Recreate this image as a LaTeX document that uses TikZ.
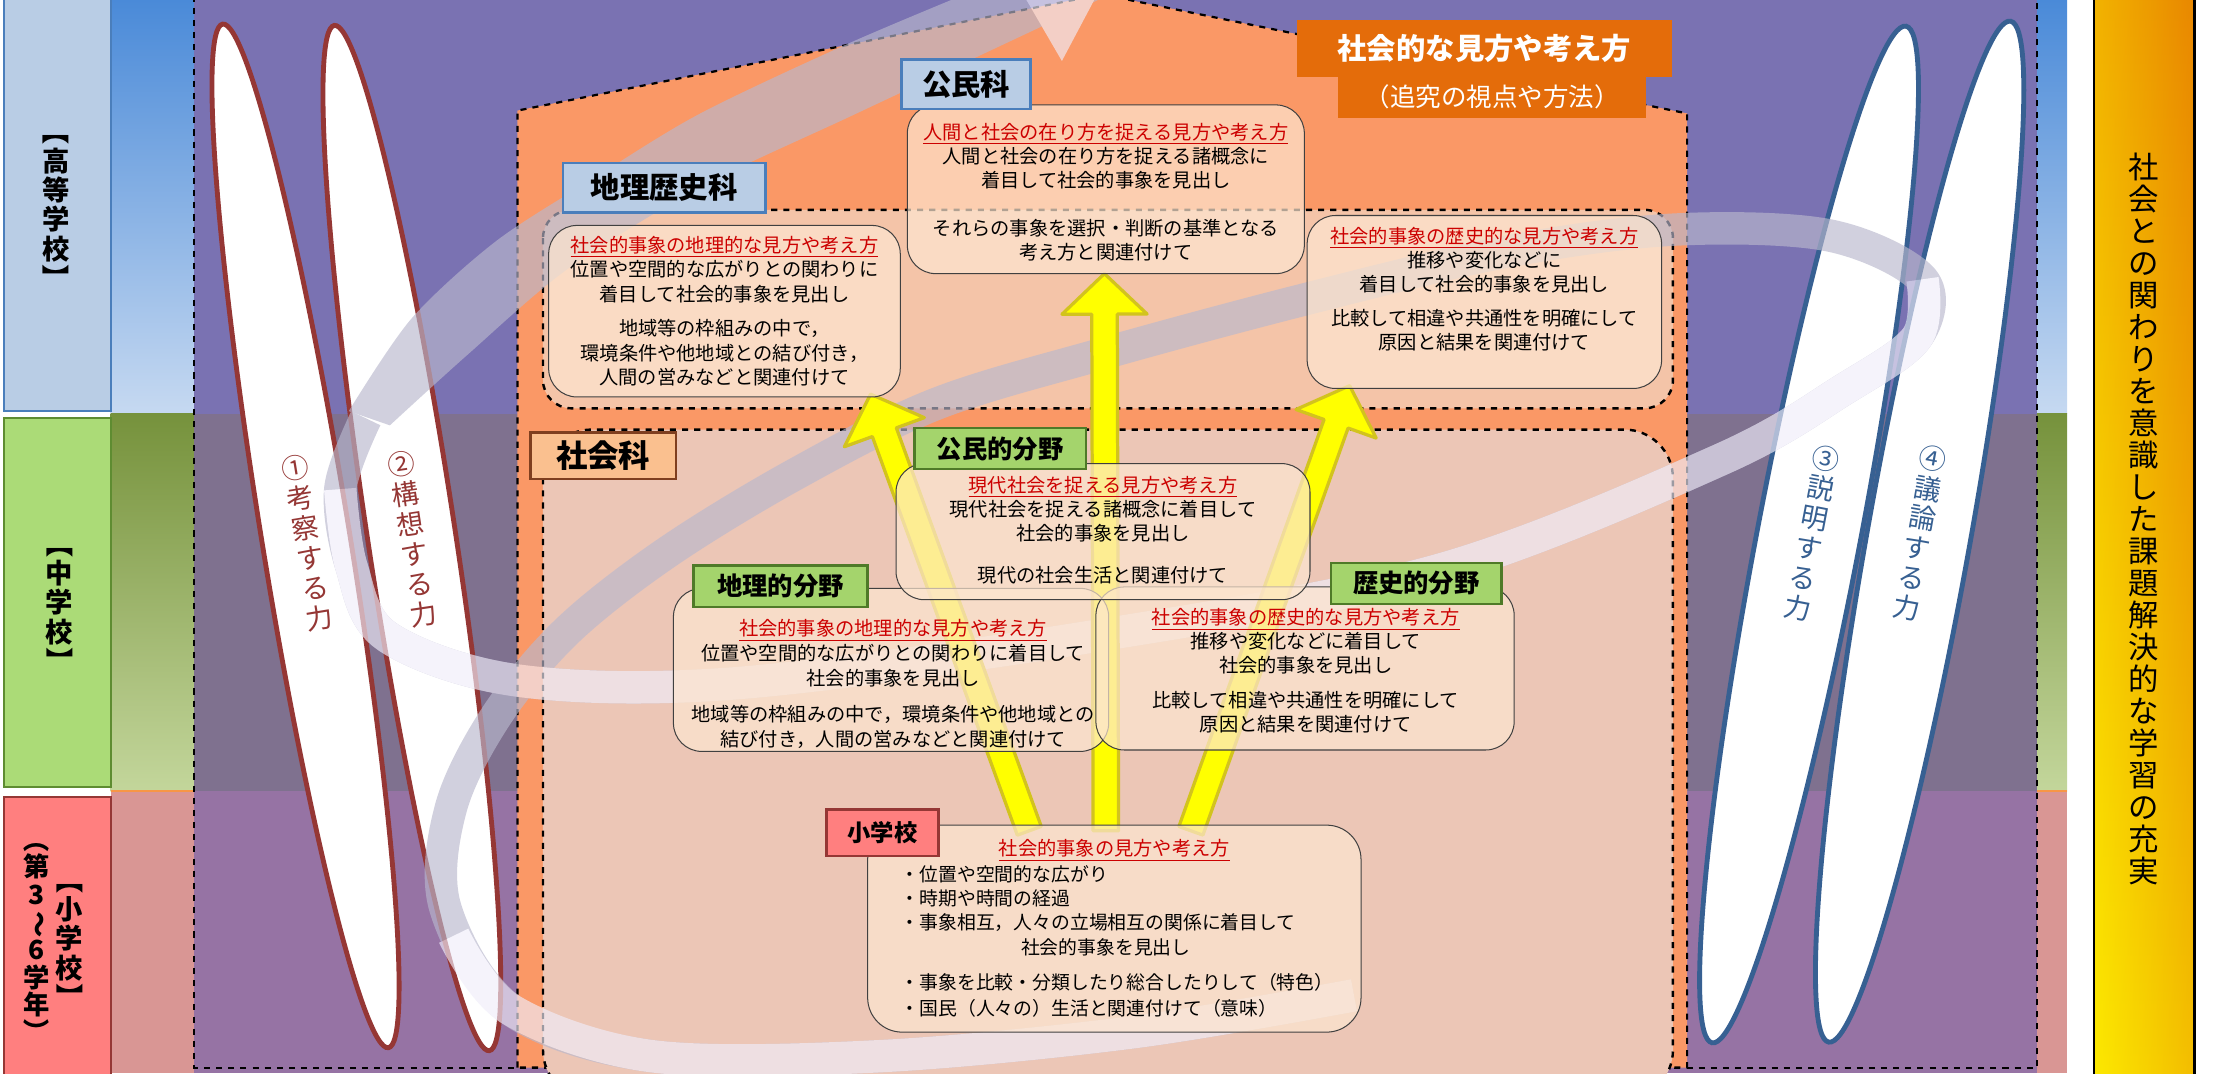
\documentclass[tikz,border=0pt]{standalone}
\usepackage{fontspec}
\setmainfont{Noto Sans CJK JP}
\usepackage{graphicx}
\usetikzlibrary{calc}

\definecolor{hsblue}{RGB}{185,205,229}
\definecolor{hsborder}{RGB}{74,126,187}
\definecolor{jsgreen}{RGB}{171,219,119}
\definecolor{jsborder}{RGB}{94,140,49}
\definecolor{espink}{RGB}{255,127,127}
\definecolor{esborder}{RGB}{149,55,53}
\definecolor{bandbluetop}{RGB}{74,138,216}
\definecolor{bandbluebot}{RGB}{198,217,241}
\definecolor{bandgreentop}{RGB}{118,146,60}
\definecolor{bandgreenbot}{RGB}{195,214,155}
\definecolor{bandpink}{RGB}{217,150,148}
\definecolor{bandline}{RGB}{247,150,70}
\definecolor{purpletop}{RGB}{122,114,178}
\definecolor{purplemid}{RGB}{127,113,143}
\definecolor{purplebot}{RGB}{150,115,164}
\definecolor{houseorange}{RGB}{250,152,102}
\definecolor{chirekifill}{RGB}{244,196,168}
\definecolor{shakaifill}{RGB}{236,198,182}
\definecolor{boxfill}{RGB}{253,230,208}
\definecolor{titlered}{RGB}{204,0,0}
\definecolor{fieldgreen}{RGB}{164,212,108}
\definecolor{fieldborder}{RGB}{79,122,40}
\definecolor{shakailabel}{RGB}{250,192,143}
\definecolor{shakaiborder}{RGB}{127,63,31}
\definecolor{viewORANGE}{RGB}{228,108,10}
\definecolor{powerred}{RGB}{149,55,53}
\definecolor{powerblue}{RGB}{55,96,146}
\definecolor{arrowyellow}{RGB}{255,255,0}
\definecolor{arrowborder}{RGB}{210,195,30}
\definecolor{ribbonback}{RGB}{185,184,205}
\definecolor{ribbonfront}{RGB}{240,237,250}
\definecolor{goldyellow}{RGB}{250,215,0}
\definecolor{goldorange}{RGB}{233,135,0}

\tikzset{
  lvlbox/.style={draw, line width=1pt, inner sep=0pt},
  lvltext/.style={align=center, inner sep=0pt, font=\fontsize{13.5pt}{14.5pt}\selectfont\bfseries},
  subjlabel/.style={draw=hsborder, fill=hsblue, line width=1.2pt, inner sep=0pt, font=\fontsize{14.5pt}{14.5pt}\selectfont\bfseries},
  fieldlabel/.style={draw=fieldborder, fill=fieldgreen, line width=1.2pt, inner sep=0pt, minimum height=20.3pt, font=\fontsize{12.5pt}{12.5pt}\selectfont\bfseries},
  region/.style={draw, dashed, line width=1.2pt, rounded corners=14pt},
  rbox/.style={draw=black!75, line width=0.5pt, fill=boxfill, fill opacity=0.7, rounded corners=14pt, inner sep=0pt},
  boxtext/.style={align=center, inner sep=0pt, font=\fontsize{9.5pt}{11.9pt}\selectfont},
  power/.style={line width=2.4pt, fill=white},
  powertext/.style={align=center, inner sep=0pt, font=\fontsize{13.5pt}{15pt}\selectfont},
  yarrow/.style={fill=arrowyellow, draw=arrowborder, line width=1.6pt, line join=round},
  ribbon/.style={line width=16pt, line cap=butt, line join=round},
}

\newcommand\redtitle[1]{\textcolor{titlered}{\underline{#1}}}
\newcommand\vbr[1]{\rotatebox[origin=c]{-90}{#1}}
\newcommand\yarrow[2]{%
  \path ($(#2)!20pt!(#1)$) coordinate (yb);
  \filldraw[yarrow] ($(#1)!6.3pt!90:(#2)$) -- ($(yb)!6.3pt!-90:(#1)$)
    -- ($(yb)!21pt!-90:(#1)$) -- (#2) -- ($(yb)!21pt!90:(#1)$)
    -- ($(yb)!6.3pt!90:(#1)$) -- ($(#1)!6.3pt!-90:(#2)$) -- cycle;}

\begin{document}
\begin{tikzpicture}[x=0.7pt, y=-0.7pt]
  \useasboundingbox (0,0) rectangle (1568,757);
  \clip (0,0) rectangle (1568,757);

  % school level bands
  \shade[top color=bandbluetop, bottom color=bandbluebot] (78,0) rectangle (1458,292);
  \shade[top color=bandgreentop, bottom color=bandgreenbot] (78,292) rectangle (1458,558);
  \fill[bandpink] (78,558) rectangle (1458,757);
  \draw[line width=1pt, bandline] (78,558) -- (1458,558);

  \node[lvlbox, draw=hsborder, fill=hsblue, minimum width=52.5pt, minimum height=206.5pt] (hs) at (40.5,142.5) {};
  \node[lvlbox, draw=jsborder, fill=jsgreen, minimum width=52.5pt, minimum height=182pt] (js) at (40.5,425) {};
  \node[lvlbox, draw=esborder, fill=espink, minimum width=52.5pt, minimum height=142pt] (es) at (40.5,663.5) {};
  \node[lvltext] (hstext) at (39.5,144.5) {\vbr{【}\\高\\等\\学\\校\\\vbr{】}};
  \node[lvltext] (jstext) at (42,425) {\vbr{【}\\中\\学\\校\\\vbr{】}};
  \node[lvltext] (estext) at (49,662) {\vbr{【}\\小\\学\\校\\\vbr{】}};
  \node[lvltext, font=\fontsize{13pt}{13.6pt}\selectfont\bfseries] (esgrade) at (26,660) {\vbr{（}\\第\\3\\\vbr{～}\\6\\学\\年\\\vbr{）}};

  % purple frame
  \fill[purpletop] (137,0) rectangle (1437,292);
  \fill[purplemid] (137,292) rectangle (1437,558);
  \fill[purplebot] (137,558) rectangle (1437,757);
  \draw[dashed, line width=1pt] (137,-3) rectangle (1437,753);

  % house and subject regions
  \filldraw[fill=houseorange, dashed, line width=1.1pt] (365,753) -- (365,78) -- (777,-4) -- (1190,80) -- (1190,753) -- cycle;
  \filldraw[region, fill=chirekifill] (383,148) rectangle (1180,288);
  \filldraw[region, fill=shakaifill, rounded corners=24pt] (383,303) rectangle (1180,775);

  % four powers
  \filldraw[power, draw=powerred, rotate around={9.2:(215.5,378)}] (215.5,378) ellipse [x radius=21.7pt, y radius=256pt];
  \filldraw[power, draw=powerred, rotate around={8.6:(290.5,379.5)}] (290.5,379.5) ellipse [x radius=21.7pt, y radius=256pt];
  \filldraw[power, draw=powerblue, rotate around={-10.8:(1276,377)}] (1276,377) ellipse [x radius=25.5pt, y radius=255.5pt];
  \filldraw[power, draw=powerblue, rotate around={-10.1:(1354,375)}] (1354,375) ellipse [x radius=25.5pt, y radius=256pt];
  \node[powertext, text=powerred, rotate=9.2] (think) at (217,383) {①\\考\\察\\す\\る\\力};
  \node[powertext, text=powerred, rotate=8.6] (plan) at (291,380) {②\\構\\想\\す\\る\\力};
  \node[powertext, text=powerblue, rotate=-10.8] (explain) at (1278,376) {③\\説\\明\\す\\る\\力};
  \node[powertext, text=powerblue, rotate=-10.1] (discuss) at (1354,376) {④\\議\\論\\す\\る\\力};

  % spiral ribbon
  \begin{scope}[transparency group, opacity=0.65]
    \draw[ribbon, ribbonback] plot[smooth, tension=0.55] coordinates {(955,702) (800,728) (620,745) (460,745) (360,712) (314,640) (318,570) (350,505) (400,445) (470,390) (560,335) (660,285) (776,250) (917,212) (1060,178) (1180,162) (1290,166) (1356,197) (1352,238) (1300,275) (1214,324) (1015,402) (770,449) (518,482) (365,480) (273,449) (248,400) (240,345) (258,295)};
    \fill[ribbonback] plot[smooth] coordinates {(246,290) (290,225) (350,170) (420,125) (494,80) (600,30) (700,-12)}
      -- plot[smooth] coordinates {(800,-12) (700,35) (600,82) (494,132) (400,190) (330,250) (275,300)} -- cycle;
    \draw[ribbon, ribbonfront] plot[smooth, tension=0.55] coordinates {(955,702) (800,728) (620,745) (460,745) (360,712) (320,660)};
    \draw[ribbon, ribbonfront] plot[smooth, tension=0.55] coordinates {(1356,197) (1352,238) (1300,275) (1214,324) (1015,402) (770,449) (518,482) (365,480) (273,449) (248,400) (240,345)};
    \fill[ribbonfront] (749,43) -- (699,-43) -- (793,-40) -- cycle;
  \end{scope}

  % arrows from elementary school
  \coordinate (yl0) at (726,586); \coordinate (yl1) at (614,278);
  \coordinate (yc0) at (780,586); \coordinate (yc1) at (779,193);
  \coordinate (yr0) at (840,586); \coordinate (yr1) at (952,272);
  \yarrow{yl0}{yl1}
  \yarrow{yc0}{yc1}
  \yarrow{yr0}{yr1}

  % boxes
  \node[rbox, minimum width=196pt, minimum height=83.3pt] (civbox) at (780,133.5) {};
  \node[rbox, minimum width=173.6pt, minimum height=84.7pt] (geobox) at (511,219.5) {};
  \node[rbox, minimum width=175pt, minimum height=85.4pt] (hisbox) at (1047,213) {};
  \node[rbox, minimum width=214.9pt, minimum height=80.5pt] (geofbox) at (628.5,472.5) {};
  \node[rbox, minimum width=206.5pt, minimum height=80.5pt] (hisfbox) at (920.5,471.5) {};
  \node[rbox, minimum width=204.4pt, minimum height=67.2pt] (civfbox) at (778,375) {};
  \node[rbox, minimum width=243.6pt, minimum height=102.2pt, rounded corners=17pt] (esbox) at (786,655) {};

  \node[boxtext] (civtext) at (780,135.5) {\redtitle{人間と社会の在り方を捉える見方や考え方}\\人間と社会の在り方を捉える諸概念に\\着目して社会的事象を見出し\\[11.9pt]それらの事象を選択・判断の基準となる\\考え方と関連付けて};
  \node[boxtext, font=\fontsize{9.5pt}{12.2pt}\selectfont] (geotext) at (511,219.5) {\redtitle{社会的事象の地理的な見方や考え方}\\位置や空間的な広がりとの関わりに\\着目して社会的事象を見出し\\[4.5pt]地域等の枠組みの中で，\\環境条件や他地域との結び付き，\\人間の営みなどと関連付けて};
  \node[boxtext] (histext) at (1047,204) {\redtitle{社会的事象の歴史的な見方や考え方}\\推移や変化などに\\着目して社会的事象を見出し\\[4.9pt]比較して相違や共通性を明確にして\\原因と結果を関連付けて};
  \node[boxtext] (civftext) at (778,374) {\redtitle{現代社会を捉える見方や考え方}\\現代社会を捉える諸概念に着目して\\社会的事象を見出し\\[9.1pt]現代の社会生活と関連付けて};
  \node[boxtext, font=\fontsize{9.5pt}{12.2pt}\selectfont] (geoftext) at (630,482.5) {\redtitle{社会的事象の地理的な見方や考え方}\\位置や空間的な広がりとの関わりに着目して\\社会的事象を見出し\\[6pt]地域等の枠組みの中で，環境条件や他地域との\\結び付き，人間の営みなどと関連付けて};
  \node[boxtext] (hisftext) at (921,473) {\redtitle{社会的事象の歴史的な見方や考え方}\\推移や変化などに着目して\\社会的事象を見出し\\[5pt]比較して相違や共通性を明確にして\\原因と結果を関連付けて};
  \node[boxtext] (estitle) at (786,600) {\redtitle{社会的事象の見方や考え方}};
  \node[boxtext, font=\fontsize{9.3pt}{11.9pt}\selectfont, align=left, anchor=west] (esitems) at (635,634) {・位置や空間的な広がり\\・時期や時間の経過\\・事象相互，人々の立場相互の関係に着目して};
  \node[boxtext, font=\fontsize{9.3pt}{11.9pt}\selectfont] (esfind) at (780,668) {社会的事象を見出し};
  \node[boxtext, font=\fontsize{9.3pt}{12.6pt}\selectfont, align=left, anchor=west] (esmore) at (635,702) {・事象を比較・分類したり総合したりして（特色）\\・国民（人々の）生活と関連付けて（意味）};

  % labels
  \node[subjlabel, minimum width=100pt, minimum height=24.5pt] (chireki) at (468.5,132.5) {地理歴史科};
  \node[subjlabel, minimum width=63.7pt, minimum height=24.5pt] (komin) at (681.5,59.5) {公民科};
  \node[draw=shakaiborder, fill=shakailabel, line width=1.2pt, inner sep=0pt, minimum width=72pt, minimum height=23pt, font=\fontsize{15.5pt}{15.5pt}\selectfont\bfseries] (shakai) at (425.5,321.5) {社会科};
  \node[fieldlabel, minimum width=84.7pt] (civf) at (705.5,316.5) {公民的分野};
  \node[fieldlabel, minimum width=86pt] (geof) at (550.5,413.5) {地理的分野};
  \node[fieldlabel, minimum width=84pt] (hisf) at (999,411.5) {歴史的分野};
  \node[draw=esborder, fill=espink, line width=1.2pt, inner sep=0pt, minimum width=55.3pt, minimum height=23pt, font=\fontsize{11.5pt}{11.5pt}\selectfont\bfseries] (esl) at (622.5,587.5) {小学校};

  % viewpoint title
  \node[fill=viewORANGE, text=white, inner sep=0pt, minimum width=184.8pt, minimum height=28pt, font=\fontsize{14.5pt}{14.5pt}\selectfont\bfseries] (view) at (1047,34) {社会的な見方や考え方};
  \node[fill=viewORANGE, text=white, inner sep=0pt, minimum width=152pt, minimum height=20.3pt, font=\fontsize{12.6pt}{12.6pt}\selectfont] (viewsub) at (1052.5,68.5) {（追究の視点や方法）};

  % goal column
  \shade[left color=goldyellow, right color=goldorange] (1477,-3) rectangle (1548,760);
  \shade[top color=goldorange, bottom color=yellow, opacity=0.45] (1477,-3) rectangle (1548,760);
  \draw[line width=1.2pt] (1477,-3) rectangle (1548,760);
  \node[align=center, inner sep=0pt, font=\fontsize{15pt}{15.8pt}\selectfont] (goal) at (1512,366) {社\\会\\と\\の\\関\\わ\\り\\を\\意\\識\\し\\た\\課\\題\\解\\決\\的\\な\\学\\習\\の\\充\\実};
\end{tikzpicture}
\end{document}
